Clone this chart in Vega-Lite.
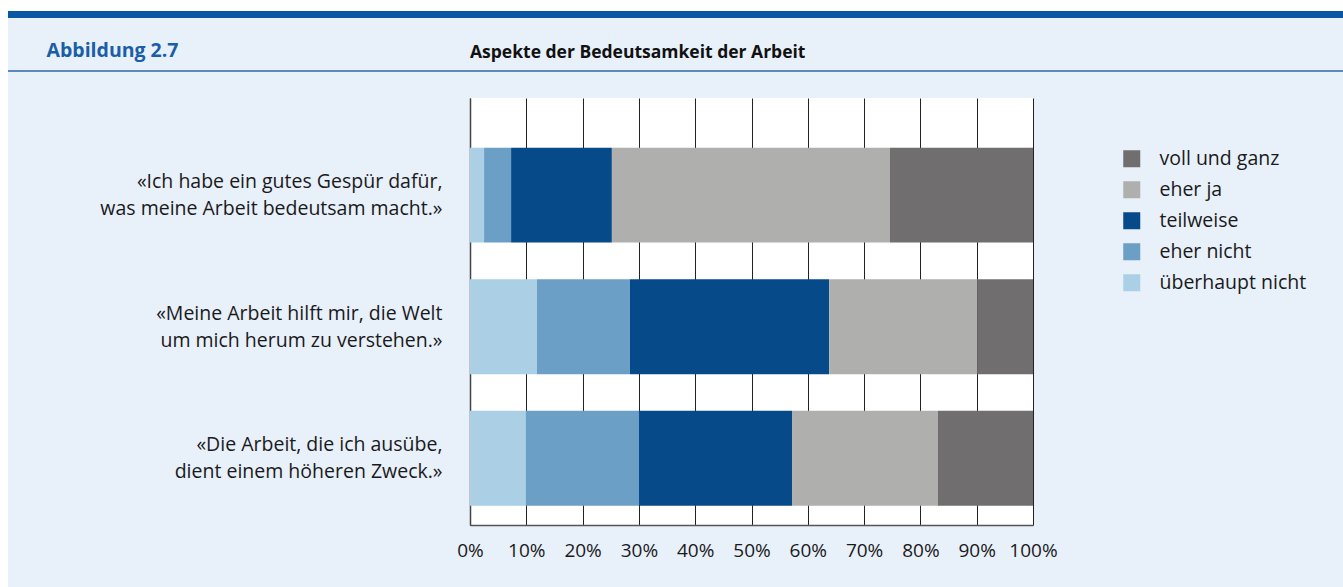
{
  "$schema": "https://vega.github.io/schema/vega-lite/v6.json",
  "width": 563,
  "height": 427,
  "autosize": "none",
  "padding": {"left": 470, "top": 98, "right": 310, "bottom": 62},
  "background": "#e8f0fa",
  "config": {"view": {"fill": "white", "stroke": null}, "font": "Open Sans"},
  "title": {
    "text": "Aspekte der Bedeutsamkeit der Arbeit",
    "anchor": "start",
    "frame": "group",
    "fontSize": 17.5,
    "fontWeight": "bold",
    "color": "#111111",
    "font": "Open Sans",
    "baseline": "alphabetic",
    "offset": 0,
    "dy": 79
  },
  "layer": [
    {
      "data": {
        "values": [
          {"aussage": "«Ich habe ein gutes Gespür dafür,|was meine Arbeit bedeutsam macht.»", "antwort": "überhaupt nicht", "rang": 1, "anteil": 2.5},
          {"aussage": "«Ich habe ein gutes Gespür dafür,|was meine Arbeit bedeutsam macht.»", "antwort": "eher nicht", "rang": 2, "anteil": 4.8},
          {"aussage": "«Ich habe ein gutes Gespür dafür,|was meine Arbeit bedeutsam macht.»", "antwort": "teilweise", "rang": 3, "anteil": 17.9},
          {"aussage": "«Ich habe ein gutes Gespür dafür,|was meine Arbeit bedeutsam macht.»", "antwort": "eher ja", "rang": 4, "anteil": 49.4},
          {"aussage": "«Ich habe ein gutes Gespür dafür,|was meine Arbeit bedeutsam macht.»", "antwort": "voll und ganz", "rang": 5, "anteil": 25.4},
          {"aussage": "«Meine Arbeit hilft mir, die Welt|um mich herum zu verstehen.»", "antwort": "überhaupt nicht", "rang": 1, "anteil": 11.9},
          {"aussage": "«Meine Arbeit hilft mir, die Welt|um mich herum zu verstehen.»", "antwort": "eher nicht", "rang": 2, "anteil": 16.5},
          {"aussage": "«Meine Arbeit hilft mir, die Welt|um mich herum zu verstehen.»", "antwort": "teilweise", "rang": 3, "anteil": 35.4},
          {"aussage": "«Meine Arbeit hilft mir, die Welt|um mich herum zu verstehen.»", "antwort": "eher ja", "rang": 4, "anteil": 26.3},
          {"aussage": "«Meine Arbeit hilft mir, die Welt|um mich herum zu verstehen.»", "antwort": "voll und ganz", "rang": 5, "anteil": 9.9},
          {"aussage": "«Die Arbeit, die ich ausübe,|dient einem höheren Zweck.»", "antwort": "überhaupt nicht", "rang": 1, "anteil": 9.9},
          {"aussage": "«Die Arbeit, die ich ausübe,|dient einem höheren Zweck.»", "antwort": "eher nicht", "rang": 2, "anteil": 20.1},
          {"aussage": "«Die Arbeit, die ich ausübe,|dient einem höheren Zweck.»", "antwort": "teilweise", "rang": 3, "anteil": 27.2},
          {"aussage": "«Die Arbeit, die ich ausübe,|dient einem höheren Zweck.»", "antwort": "eher ja", "rang": 4, "anteil": 25.9},
          {"aussage": "«Die Arbeit, die ich ausübe,|dient einem höheren Zweck.»", "antwort": "voll und ganz", "rang": 5, "anteil": 16.9}
        ]
      },
      "mark": {"type": "bar"},
      "encoding": {
        "y": {
          "field": "aussage",
          "type": "nominal",
          "sort": [
            "«Ich habe ein gutes Gespür dafür,|was meine Arbeit bedeutsam macht.»",
            "«Meine Arbeit hilft mir, die Welt|um mich herum zu verstehen.»",
            "«Die Arbeit, die ich ausübe,|dient einem höheren Zweck.»"
          ],
          "scale": {"paddingInner": 0.278, "paddingOuter": 0.262, "align": 0.72},
          "axis": {
            "title": "Abbildung 2.7",
            "titleAngle": 0,
            "titleX": -424,
            "titleY": -42,
            "titleAlign": "left",
            "titleBaseline": "alphabetic",
            "titleFontSize": 19.5,
            "titleFontWeight": "bold",
            "titleColor": "#1a5ea8",
            "titleFont": "Open Sans",
            "labelExpr": "split(datum.label, '|')",
            "labelFontSize": 19.5,
            "labelLineHeight": 27,
            "labelPadding": 28,
            "labelOffset": -13,
            "labelLimit": 440,
            "labelColor": "#1a1a1a",
            "labelFont": "Open Sans",
            "ticks": false,
            "domainColor": "#444444",
            "domainWidth": 1.5
          }
        },
        "x": {
          "field": "anteil",
          "type": "quantitative",
          "stack": "zero",
          "scale": {"domain": [0, 100], "nice": false},
          "axis": {
            "title": null,
            "values": [0, 10, 20, 30, 40, 50, 60, 70, 80, 90, 100],
            "labelExpr": "datum.value + '%'",
            "labelOverlap": false,
            "labelFlush": false,
            "grid": true,
            "gridColor": "#222222",
            "gridWidth": 1,
            "ticks": false,
            "domainColor": "#555555",
            "domainWidth": 1.5,
            "labelFontSize": 19,
            "labelPadding": 16,
            "labelColor": "#1a1a1a",
            "labelFont": "Open Sans"
          }
        },
        "color": {
          "field": "antwort",
          "type": "nominal",
          "scale": {
            "domain": ["voll und ganz", "eher ja", "teilweise", "eher nicht", "überhaupt nicht"],
            "range": ["#706e6e", "#afafae", "#074a89", "#6b9fc6", "#abd0e6"]
          },
          "legend": {
            "orient": "none",
            "legendX": 652,
            "legendY": 51,
            "title": null,
            "padding": 0,
            "symbolType": "square",
            "symbolSize": 289,
            "symbolStrokeWidth": 0,
            "symbolOpacity": 1,
            "labelFontSize": 19.5,
            "labelFont": "Open Sans",
            "labelColor": "#1a1a1a",
            "labelOffset": 18,
            "rowPadding": 10
          }
        },
        "order": {"field": "rang", "type": "quantitative"}
      }
    },
    {
      "data": {"values": [{"teil": "oben"}]},
      "mark": {"type": "rule", "color": "#ffffff", "strokeWidth": 11},
      "encoding": {"x": {"value": -470}, "x2": {"value": 873}, "y": {"value": -92.5}}
    },
    {
      "data": {"values": [{"teil": "links"}]},
      "mark": {"type": "rule", "color": "#ffffff", "strokeWidth": 8},
      "encoding": {"x": {"value": -466}, "y": {"value": -98}, "y2": {"value": 489}}
    },
    {
      "data": {"values": [{"teil": "balken"}]},
      "mark": {"type": "rule", "color": "#0757a5", "strokeWidth": 7},
      "encoding": {"x": {"value": -462}, "x2": {"value": 873}, "y": {"value": -83.5}}
    },
    {
      "data": {"values": [{"teil": "linie"}]},
      "mark": {"type": "rule", "color": "#2b6aac", "strokeWidth": 1.5},
      "encoding": {"x": {"value": -462}, "x2": {"value": 873}, "y": {"value": -27}}
    }
  ]
}
